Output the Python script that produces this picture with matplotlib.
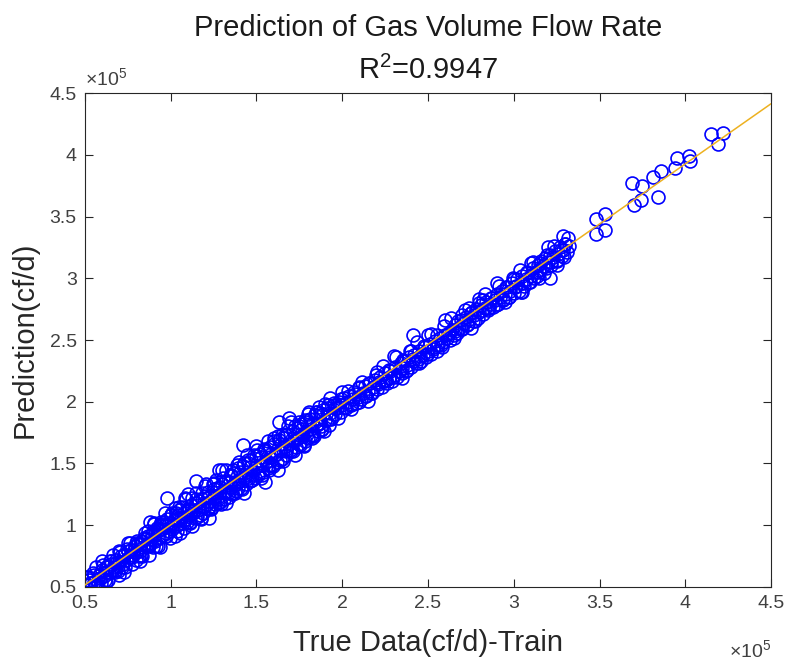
import matplotlib
matplotlib.use("Agg")
import matplotlib.pyplot as plt
from matplotlib.ticker import FuncFormatter

plt.rcParams['font.family'] = ['Liberation Sans', 'DejaVu Sans']
plt.rcParams['mathtext.fontset'] = 'custom'
plt.rcParams['mathtext.rm'] = 'Liberation Sans'
plt.rcParams['mathtext.it'] = 'Liberation Sans:italic'

SCALE = 1e5  # values below are in units of 1e5 cf/d

# main cluster (true, predicted)
true_a = [0.52, 0.53, 0.55, 0.56, 0.57, 0.58, 0.59, 0.60, 0.61, 0.62, 0.63, 0.64, 0.65, 0.66,
          0.67, 0.68, 0.69, 0.70, 0.70, 0.71, 0.72, 0.73, 0.74, 0.75, 0.76, 0.77, 0.78, 0.79,
          0.80, 0.81, 0.82, 0.82, 0.83, 0.84, 0.85, 0.86, 0.87, 0.88, 0.88, 0.89, 0.90]
pred_a = [0.58, 0.53, 0.60, 0.52, 0.52, 0.60, 0.57, 0.64, 0.59, 0.62, 0.66, 0.61, 0.69, 0.64,
          0.66, 0.72, 0.67, 0.70, 0.60, 0.75, 0.69, 0.76, 0.72, 0.79, 0.74, 0.80, 0.76, 0.83,
          0.78, 0.85, 0.79, 0.71, 0.87, 0.82, 0.89, 0.84, 0.91, 1.03, 0.86, 0.93, 0.88]

true_a2 = [0.505, 0.515, 0.525, 0.535, 0.545, 0.555, 0.565, 0.575, 0.585, 0.595, 0.605, 0.615,
           0.625, 0.635, 0.645, 0.655, 0.665, 0.675, 0.685, 0.695, 0.705, 0.715, 0.725, 0.735,
           0.745, 0.755, 0.765, 0.775, 0.785, 0.795, 0.805, 0.815, 0.825, 0.835, 0.845, 0.855,
           0.865, 0.875, 0.885, 0.895]
pred_a2 = [0.58, 0.52, 0.56, 0.53, 0.61, 0.54, 0.66, 0.54, 0.60, 0.53, 0.68, 0.56,
           0.66, 0.56, 0.71, 0.64, 0.76, 0.64, 0.70, 0.63, 0.78, 0.66, 0.76, 0.66,
           0.81, 0.74, 0.86, 0.74, 0.80, 0.72, 0.87, 0.75, 0.85, 0.75, 0.90, 0.83,
           0.95, 0.83, 0.89, 0.82]

true_a3 = [0.600, 0.625, 0.650, 0.675, 0.700, 0.725, 0.750, 0.775, 0.800, 0.825,
           0.850, 0.875, 0.900, 0.925, 0.950, 0.975, 1.000, 1.025, 1.050, 1.075]
pred_a3 = [0.71, 0.54, 0.71, 0.62, 0.79, 0.62, 0.86, 0.69, 0.86, 0.76,
           0.94, 0.76, 1.01, 0.83, 1.01, 0.91, 1.08, 0.91, 1.15, 0.98]

true_b = [0.90, 0.91, 0.91, 0.92, 0.93, 0.93, 0.94, 0.95, 0.95, 0.96, 0.97, 0.97, 0.98, 0.98,
          0.99, 1.00, 1.00, 1.01, 1.02, 1.03, 1.03, 1.04, 1.05, 1.05, 1.06, 1.07, 1.08, 1.09,
          1.09, 1.10, 1.11, 1.11, 1.12, 1.13, 1.14, 1.15, 1.15, 1.16, 1.17, 1.18, 1.18, 1.19,
          1.20, 1.21, 1.22, 1.22, 1.23, 1.24, 1.25, 1.25, 1.26, 1.27, 1.28, 1.28, 1.29, 1.30,
          1.31, 1.31, 1.32, 1.33, 1.34, 1.35, 1.35, 1.36, 1.37, 1.38, 1.38, 1.39, 1.40, 1.41,
          1.42, 1.42, 1.43, 1.44, 1.45, 1.45, 1.46, 1.47, 1.48, 1.49, 1.50, 1.50, 1.51, 1.52,
          1.53, 1.54, 1.55, 1.55, 1.56, 1.57, 1.58, 1.58, 1.59, 1.60, 1.61, 1.62, 1.63, 1.63,
          1.64, 1.65, 1.66, 1.66, 1.67, 1.68, 1.69, 1.69, 1.70, 1.71, 1.72, 1.73, 1.74, 1.74,
          1.75, 1.76, 1.77, 1.78, 1.79, 1.79, 1.80, 1.81, 1.82, 1.83, 1.84, 1.85, 1.86, 1.87,
          1.87, 1.88, 1.89, 1.90]
pred_b = [0.95, 0.87, 0.93, 0.98, 0.90, 0.96, 1.00, 0.92, 0.97, 1.03, 0.94, 1.00, 1.22, 1.05,
          0.95, 1.02, 1.08, 0.97, 1.04, 1.10, 0.99, 1.06, 1.01, 1.12, 1.07, 1.02, 1.10, 1.21,
          1.05, 1.13, 1.08, 1.03, 1.16, 1.10, 1.06, 1.36, 1.18, 1.12, 1.08, 1.21, 1.15, 1.10,
          1.24, 1.17, 1.13, 1.27, 1.20, 1.15, 1.29, 1.22, 1.17, 1.30, 1.45, 1.24, 1.19, 1.33,
          1.26, 1.21, 1.36, 1.28, 1.23, 1.40, 1.31, 1.26, 1.42, 1.33, 1.28, 1.46, 1.36, 1.30,
          1.65, 1.48, 1.38, 1.33, 1.50, 1.41, 1.36, 1.53, 1.44, 1.38, 1.56, 1.47, 1.41, 1.58,
          1.49, 1.43, 1.35, 1.61, 1.52, 1.46, 1.63, 1.55, 1.49, 1.66, 1.57, 1.51, 1.84, 1.69,
          1.60, 1.54, 1.71, 1.63, 1.57, 1.74, 1.87, 1.66, 1.60, 1.76, 1.68, 1.63, 1.79, 1.71,
          1.66, 1.82, 1.73, 1.68, 1.84, 1.76, 1.71, 1.86, 1.78, 1.73, 1.89, 1.81, 1.76, 1.91,
          1.83, 1.78, 1.93, 1.85]

true_b2 = [0.905, 0.915, 0.925, 0.935, 0.945, 0.955, 0.965, 0.975, 0.985, 0.995,
           1.005, 1.015, 1.025, 1.035, 1.045, 1.055, 1.065, 1.075, 1.085, 1.095,
           1.105, 1.115, 1.125, 1.135, 1.145, 1.155, 1.165, 1.175, 1.185, 1.195,
           1.205, 1.215, 1.225, 1.235, 1.245, 1.255, 1.265, 1.275, 1.285, 1.295,
           1.305, 1.315, 1.325, 1.335, 1.345, 1.355, 1.365, 1.375, 1.385, 1.395,
           1.405, 1.415, 1.425, 1.435, 1.445, 1.455, 1.465, 1.475, 1.485, 1.495,
           1.505, 1.515, 1.525, 1.535, 1.545, 1.555, 1.565, 1.575, 1.585, 1.595,
           1.605, 1.615, 1.625, 1.635, 1.645, 1.655, 1.665, 1.675, 1.685, 1.695,
           1.705, 1.715, 1.725, 1.735, 1.745, 1.755, 1.765, 1.775, 1.785, 1.795,
           1.805, 1.815, 1.825, 1.835, 1.845, 1.855, 1.865, 1.875, 1.885, 1.895]
pred_b2 = [1.02, 0.83, 0.96, 0.82, 1.03, 0.92, 1.10, 0.91, 1.00, 0.90,
           1.10, 1.00, 1.14, 0.95, 1.08, 0.94, 1.15, 1.04, 1.22, 1.03,
           1.12, 1.02, 1.22, 1.12, 1.26, 1.07, 1.20, 1.05, 1.26, 1.15,
           1.33, 1.14, 1.23, 1.13, 1.33, 1.23, 1.37, 1.18, 1.31, 1.17,
           1.38, 1.27, 1.45, 1.26, 1.35, 1.25, 1.45, 1.35, 1.49, 1.30,
           1.43, 1.29, 1.50, 1.39, 1.57, 1.38, 1.47, 1.37, 1.57, 1.47,
           1.61, 1.42, 1.55, 1.41, 1.62, 1.51, 1.68, 1.49, 1.58, 1.48,
           1.68, 1.58, 1.72, 1.53, 1.66, 1.52, 1.73, 1.62, 1.80, 1.61,
           1.70, 1.60, 1.80, 1.70, 1.84, 1.65, 1.78, 1.64, 1.85, 1.74,
           1.92, 1.73, 1.82, 1.72, 1.92, 1.82, 1.96, 1.77, 1.90, 1.76]

true_b3 = [1.100, 1.125, 1.150, 1.175, 1.200, 1.225, 1.250, 1.275, 1.300, 1.325,
           1.350, 1.375, 1.400, 1.425, 1.450, 1.475, 1.500, 1.525, 1.550, 1.575,
           1.600, 1.625, 1.650, 1.675, 1.700, 1.725, 1.750, 1.775, 1.800, 1.825,
           1.850, 1.875, 1.900, 1.925, 1.950]
pred_b3 = [1.25, 0.99, 1.21, 1.06, 1.32, 1.06, 1.34, 1.21, 1.45, 1.18,
           1.41, 1.26, 1.51, 1.26, 1.53, 1.41, 1.64, 1.38, 1.60, 1.45,
           1.71, 1.45, 1.73, 1.60, 1.84, 1.57, 1.80, 1.65, 1.90, 1.71,
           1.92, 1.80, 1.98, 1.81, 1.99]

true_c = [1.91, 1.92, 1.93, 1.93, 1.94, 1.95, 1.96, 1.97, 1.98, 1.99, 2.00, 2.01, 2.02, 2.03,
          2.04, 2.05, 2.06, 2.07, 2.08, 2.09, 2.10, 2.11, 2.12, 2.13, 2.14, 2.15, 2.16, 2.17,
          2.18, 2.19, 2.20, 2.21, 2.22, 2.23, 2.24, 2.25, 2.26, 2.27, 2.28, 2.29, 2.30, 2.31,
          2.32, 2.33, 2.34, 2.35, 2.35, 2.36, 2.37, 2.38, 2.39, 2.40, 2.41, 2.41, 2.42, 2.43,
          2.44, 2.45, 2.46, 2.47, 2.48, 2.49, 2.50, 2.51, 2.52, 2.53, 2.54, 2.55, 2.56, 2.57,
          2.58, 2.59, 2.60]
pred_c = [1.95, 1.86, 2.03, 1.91, 1.88, 1.97, 1.90, 1.95, 2.00, 1.92, 1.97, 2.03, 1.95, 2.00,
          2.05, 1.97, 2.02, 2.08, 1.99, 2.04, 2.11, 2.02, 2.07, 2.13, 2.05, 2.09, 2.15, 2.07,
          2.12, 2.18, 2.10, 2.14, 2.20, 2.12, 2.17, 2.23, 2.15, 2.19, 2.25, 2.17, 2.22, 2.28,
          2.20, 2.25, 2.31, 2.19, 2.27, 2.33, 2.25, 2.30, 2.36, 2.28, 2.54, 2.33, 2.38, 2.31,
          2.35, 2.41, 2.33, 2.38, 2.44, 2.36, 2.41, 2.47, 2.39, 2.43, 2.49, 2.41, 2.46, 2.52,
          2.44, 2.48, 2.54]

true_d = [2.61, 2.62, 2.63, 2.64, 2.65, 2.66, 2.67, 2.68, 2.69, 2.70, 2.71, 2.72, 2.73, 2.74,
          2.74, 2.75, 2.76, 2.77, 2.78, 2.79, 2.80, 2.81, 2.82, 2.82, 2.83, 2.84, 2.85, 2.86,
          2.87, 2.88, 2.89, 2.90, 2.91, 2.92, 2.93, 2.94, 2.95, 2.96, 2.97, 2.98, 2.99, 3.00,
          3.01, 3.02, 3.03, 3.04, 3.04, 3.05, 3.06, 3.07, 3.08, 3.09, 3.10, 3.11, 3.12, 3.13,
          3.14, 3.15, 3.15, 3.16, 3.17, 3.18, 3.19, 3.20, 3.21, 3.21, 3.22, 3.23, 3.24, 3.25,
          3.26, 3.27, 3.28, 3.29, 3.29, 3.30, 3.31, 3.32]
pred_d = [2.52, 2.56, 2.50, 2.58, 2.54, 2.62, 2.56, 2.60, 2.66, 2.59, 2.64, 2.69, 2.62, 2.76,
          2.67, 2.72, 2.65, 2.70, 2.75, 2.68, 2.73, 2.78, 2.82, 2.71, 2.76, 2.81, 2.74, 2.79,
          2.84, 2.77, 2.82, 2.87, 2.79, 2.85, 2.90, 2.82, 2.87, 2.93, 2.85, 2.90, 2.96, 2.88,
          2.93, 2.99, 2.90, 2.89, 2.96, 3.02, 2.94, 2.99, 3.05, 2.97, 3.02, 3.08, 3.00, 3.05,
          3.11, 3.00, 3.07, 3.14, 3.10, 3.16, 3.08, 3.13, 3.00, 3.19, 3.11, 3.17, 3.22, 3.14,
          3.20, 3.25, 3.18, 3.34, 3.23, 3.28, 3.21, 3.26]

true_cd2 = [1.915, 1.935, 1.955, 1.975, 1.995, 2.015, 2.035, 2.055, 2.075, 2.095,
            2.115, 2.135, 2.155, 2.175, 2.195, 2.215, 2.235, 2.255, 2.275, 2.295,
            2.315, 2.335, 2.355, 2.375, 2.395, 2.415, 2.435, 2.455, 2.475, 2.495,
            2.515, 2.535, 2.555, 2.575, 2.595, 2.615, 2.635, 2.655, 2.675, 2.695,
            2.715, 2.735, 2.755, 2.775, 2.795, 2.815, 2.835, 2.855, 2.875, 2.895,
            2.915, 2.935, 2.955, 2.975, 2.995, 3.015, 3.035, 3.055, 3.075, 3.095,
            3.115, 3.135, 3.155, 3.175, 3.195, 3.215, 3.235, 3.255, 3.275, 3.295, 3.315]
pred_cd2 = [1.97, 1.86, 1.95, 1.87, 2.02, 1.96, 2.09, 1.98, 2.06, 2.00,
            2.16, 2.05, 2.15, 2.07, 2.22, 2.16, 2.29, 2.18, 2.26, 2.20,
            2.36, 2.25, 2.34, 2.26, 2.41, 2.35, 2.48, 2.37, 2.45, 2.39,
            2.55, 2.44, 2.54, 2.46, 2.61, 2.55, 2.68, 2.57, 2.65, 2.59,
            2.74, 2.63, 2.73, 2.65, 2.80, 2.74, 2.87, 2.76, 2.84, 2.78,
            2.94, 2.83, 2.93, 2.85, 3.00, 2.94, 3.07, 2.96, 3.04, 2.97,
            3.13, 3.02, 3.12, 3.04, 3.19, 3.13, 3.26, 3.15, 3.23, 3.17, 3.33]

true_d3 = [2.00, 2.05, 2.10, 2.15, 2.20, 2.25, 2.30, 2.35, 2.40, 2.45, 2.50, 2.55, 2.60, 2.65,
           2.70, 2.75, 2.80, 2.85, 2.90, 2.95, 3.00, 3.05, 3.10, 3.15, 3.20, 3.25, 3.30]
pred_d3 = [2.08, 1.94, 2.12, 2.01, 2.24, 2.17, 2.37, 2.23, 2.41, 2.31, 2.54, 2.46, 2.66, 2.52,
           2.70, 2.60, 2.83, 2.76, 2.96, 2.81, 2.99, 2.89, 3.12, 3.05, 3.25, 3.11, 3.28]

# sparse high-flow points
true_e = [3.48, 3.48, 3.53, 3.53, 3.69, 3.70, 3.74, 3.75, 3.81, 3.84, 3.86, 3.94, 3.95, 4.02,
          4.03, 4.15, 4.19, 4.22]
pred_e = [3.48, 3.36, 3.52, 3.39, 3.77, 3.59, 3.63, 3.75, 3.82, 3.66, 3.87, 3.89, 3.97, 3.99,
          3.95, 4.17, 4.09, 4.18]

# fitted line coefficients (pred = slope*true + intercept), in 1e5 units
fit_slope = 0.974
fit_intercept = 0.03
xlim = (0.5, 4.5)
ylim = (0.5, 4.5)
ticks = [0.5, 1.0, 1.5, 2.0, 2.5, 3.0, 3.5, 4.0, 4.5]

true_all = [v * SCALE for v in true_a + true_a2 + true_a3 + true_b + true_b2 + true_b3
            + true_c + true_d + true_cd2 + true_d3 + true_e]
pred_all = [v * SCALE for v in pred_a + pred_a2 + pred_a3 + pred_b + pred_b2 + pred_b3
            + pred_c + pred_d + pred_cd2 + pred_d3 + pred_e]

fig = plt.figure(figsize=(7.89, 6.62), dpi=100)
ax = fig.add_axes([0.1077, 0.1133, 0.9772 - 0.1077, 0.8595 - 0.1133])

ax.plot(true_all, pred_all, 'o', mfc='none', mec='#0000ff', ms=9.3, mew=1.2,
        linestyle='none', zorder=2)
lx = [xlim[0] * SCALE, xlim[1] * SCALE]
ly = [(fit_slope * xlim[0] + fit_intercept) * SCALE, (fit_slope * xlim[1] + fit_intercept) * SCALE]
ax.plot(lx, ly, '-', color='#EDB120', lw=1.1, zorder=3)

ax.set_xlim(xlim[0] * SCALE, xlim[1] * SCALE)
ax.set_ylim(ylim[0] * SCALE, ylim[1] * SCALE)
ax.set_xticks([t * SCALE for t in ticks])
ax.set_yticks([t * SCALE for t in ticks])
fmt = FuncFormatter(lambda v, p: '%g' % round(v / SCALE, 4))
ax.xaxis.set_major_formatter(fmt)
ax.yaxis.set_major_formatter(fmt)

dark = '#262626'
for s in ax.spines.values():
    s.set_color(dark)
    s.set_linewidth(0.8)
ax.tick_params(direction='in', length=6, width=0.8, colors=dark, labelsize=14,
               top=True, right=True, pad=6)
for lab in ax.get_xticklabels() + ax.get_yticklabels():
    lab.set_color('#404040')

ax.set_xlabel('True Data(cf/d)-Train', fontsize=21, color=dark, labelpad=12)
ax.set_ylabel('Prediction(cf/d)', fontsize=21, color=dark, labelpad=8)
ax.set_title('Prediction of Gas Volume Flow Rate\n$\\mathregular{R^2}$=0.9947',
             fontsize=21, color='#1a1a1a', pad=10, linespacing=1.6)

ax.text(0.0, 1.008, '$\\mathregular{\\times 10^5}$', transform=ax.transAxes,
        ha='left', va='bottom', fontsize=14, color='#404040')
ax.text(1.0, -0.105, '$\\mathregular{\\times 10^5}$', transform=ax.transAxes,
        ha='right', va='top', fontsize=14, color='#404040')

fig.savefig('out.png', dpi=100)
